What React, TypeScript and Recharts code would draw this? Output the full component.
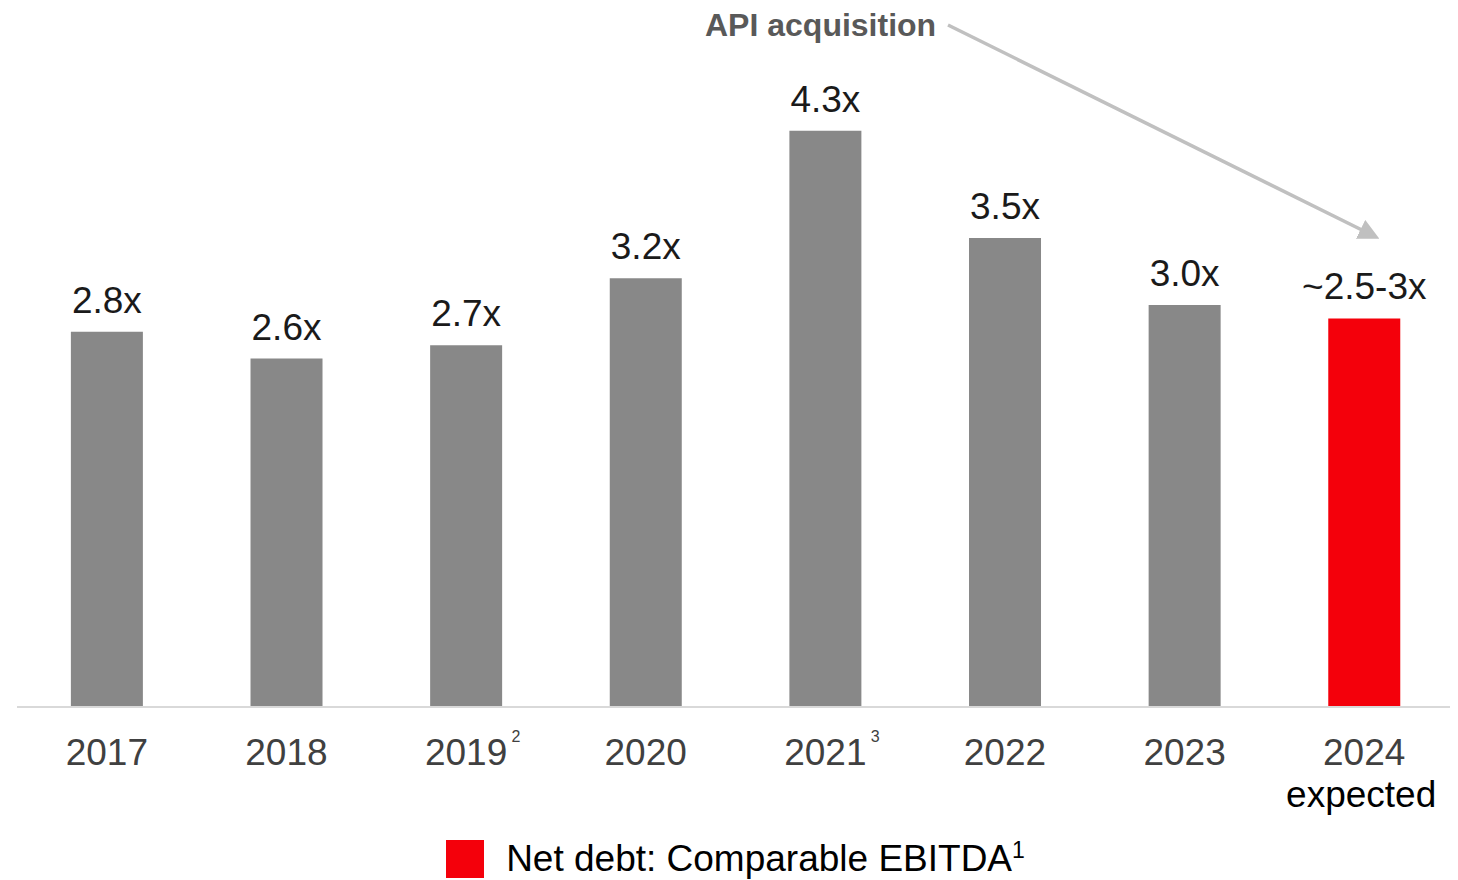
import React from 'react';
import { BarChart, Bar, XAxis, YAxis, LabelList, Cell, Legend } from 'recharts';

const years = ['2017', '2018', '2019', '2020', '2021', '2022', '2023', '2024'];
const yearNotes = ['', '', '2', '', '3', '', '', ''];
const yearSubs = ['', '', '', '', '', '', '', 'expected'];
const leverage = [2.8, 2.6, 2.7, 3.2, 4.3, 3.5, 3.0, 2.9];
const valueLabels = ['2.8x', '2.6x', '2.7x', '3.2x', '4.3x', '3.5x', '3.0x', '~2.5-3x'];
const isForecast = [false, false, false, false, false, false, false, true];

const legendLabel = 'Net debt: Comparable EBITDA';
const annotationText = 'API acquisition';

const GRAY = '#888888';
const RED = '#f4000b';
const FONT = '"Liberation Sans", Arial, Helvetica, sans-serif';

const data = years.map((y, i) => ({
  year: y,
  note: yearNotes[i],
  sub: yearSubs[i],
  value: leverage[i],
  label: valueLabels[i],
  forecast: isForecast[i],
}));

const YearTick = (props: any) => {
  const { x, y, payload, index } = props;
  const d = data[index] || data.find((e) => e.year === payload.value);
  return (
    <g>
      <text x={x} y={y + 50} textAnchor="middle" fontSize={37} fill="#404040" fontFamily={FONT}>
        {payload.value}
      </text>
      {d && d.note ? (
        <text x={x + 50} y={y + 27} textAnchor="middle" fontSize={16} fill="#404040" fontFamily={FONT}>
          {d.note}
        </text>
      ) : null}
      {d && d.sub ? (
        <text x={x - 3} y={y + 92} textAnchor="middle" fontSize={37} fill="#000000" fontFamily={FONT}>
          {d.sub}
        </text>
      ) : null}
    </g>
  );
};

const LegendContent = () => (
  <div
    style={{
      display: 'flex',
      justifyContent: 'center',
      alignItems: 'center',
      fontFamily: FONT,
      fontSize: 37,
      color: '#000',
      height: 48,
      paddingTop: 6,
      boxSizing: 'border-box',
    }}
  >
    <span style={{ display: 'inline-block', width: 38, height: 38, background: RED, marginRight: 22 }} />
    <span>
      {legendLabel}
      <sup style={{ fontSize: 23, verticalAlign: 'top', position: 'relative', top: -1 }}>1</sup>
    </span>
  </div>
);

export default function App() {
  return (
    <div style={{ position: 'relative', width: 1450, height: 872 }}>
      <BarChart
        width={1450}
        height={872}
        data={data}
        margin={{ top: 29, right: 4, left: 9, bottom: 0 }}
        barCategoryGap="30%"
      >
        <XAxis
          dataKey="year"
          axisLine={{ stroke: '#d9d9d9', strokeWidth: 2 }}
          tickLine={false}
          tick={<YearTick />}
          height={125}
          interval={0}
        />
        <YAxis hide domain={[0, 5]} />
        <Legend verticalAlign="bottom" height={48} content={<LegendContent />} />
        <Bar dataKey="value" isAnimationActive={false}>
          {data.map((d, i) => (
            <Cell key={i} fill={d.forecast ? RED : GRAY} />
          ))}
          <LabelList
            dataKey="label"
            position="top"
            offset={19}
            fontSize={37}
            fill="#1a1a1a"
            fontFamily={FONT}
          />
        </Bar>
      </BarChart>
      <svg
        width={1450}
        height={872}
        style={{ position: 'absolute', left: 0, top: 0, pointerEvents: 'none' }}
      >
        <defs>
          <marker id="arrowHead" markerWidth="6" markerHeight="6" refX="3" refY="3" orient="auto" markerUnits="strokeWidth">
            <path d="M0,0 L6,3 L0,6 z" fill="#c0c0c0" />
          </marker>
        </defs>
        <text x={697} y={28} fontSize={32} fontWeight="bold" fill="#595959" fontFamily={FONT}>
          {annotationText}
        </text>
        <line x1={940} y1={17} x2={1362} y2={226} stroke="#c0c0c0" strokeWidth={3.5} markerEnd="url(#arrowHead)" />
      </svg>
    </div>
  );
}
